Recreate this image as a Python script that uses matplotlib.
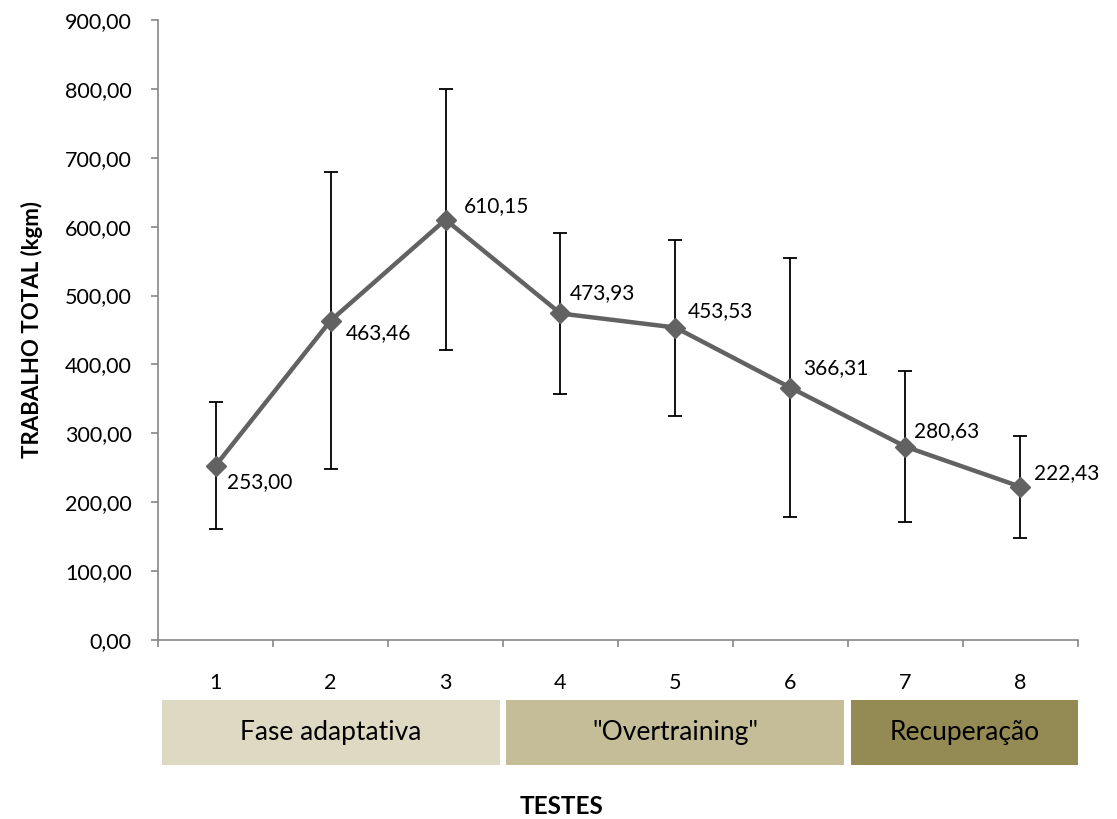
import matplotlib
matplotlib.use("Agg")
import matplotlib.pyplot as plt
import matplotlib.transforms as mtransforms
from matplotlib.patches import Rectangle
from matplotlib.ticker import FuncFormatter, MultipleLocator

plt.rcParams['font.family'] = ['Lato', 'DejaVu Sans']

# data
testes = [1, 2, 3, 4, 5, 6, 7, 8]
trabalho = [253.00, 463.46, 610.15, 473.93, 453.53, 366.31, 280.63, 222.43]
desvio = [92.4, 216.0, 189.5, 117.0, 127.7, 187.5, 109.3, 74.3]
fases = ['Fase adaptativa', '"Overtraining"', 'Recuperação']
fase_cores = ['#DDD9C3', '#C4BD97', '#948A54']
fase_inicio = [1, 4, 7]
fase_fim = [3, 6, 8]

# label offsets in points (dx, dy)
label_off = [(8, -12), (11, -9), (13, 10), (7, 15), (9, 12), (9, 14), (6, 11), (10, 10)]

fig = plt.figure(figsize=(11.17, 8.19), dpi=100)
ax = fig.add_axes([0.1415, 0.2186, 0.8235, 0.7570])

ax.errorbar(testes, trabalho, yerr=desvio, fmt='none', ecolor='black',
            elinewidth=1.3, capsize=5, capthick=1.3, zorder=2)
ax.plot(testes, trabalho, color='#626262', lw=3.2, marker='D', markersize=10,
        zorder=3)

for x, y, (dx, dy) in zip(testes, trabalho, label_off):
    ax.annotate(f'{y:.2f}'.replace('.', ','), (x, y), xytext=(dx, dy),
                textcoords='offset points', ha='left', va='center', fontsize=15)

ax.set_xlim(0.5, 8.5)
ax.set_ylim(0, 900)
ax.yaxis.set_major_locator(MultipleLocator(100))
ax.yaxis.set_major_formatter(FuncFormatter(lambda v, p: f'{v:.2f}'.replace('.', ',')))

# category ticks at boundaries, labels at centres
ax.set_xticks([t + 0.5 for t in [0] + testes])
ax.set_xticklabels([])
ax.set_xticks(testes, minor=True)
ax.set_xticklabels([str(t) for t in testes], minor=True)
ax.tick_params(axis='x', which='minor', length=0, pad=24, labelsize=15.5)
ax.tick_params(axis='x', which='major', length=5, color='#868686', width=1.2)
ax.tick_params(axis='y', length=5, color='#868686', width=1.2, pad=14,
               labelsize=15.5)

for s in ['top', 'right']:
    ax.spines[s].set_visible(False)
for s in ['left', 'bottom']:
    ax.spines[s].set_color('#868686')
    ax.spines[s].set_linewidth(1.2)

ax.set_ylabel('TRABALHO TOTAL (kgm)', fontsize=16, fontweight='bold', labelpad=16)

# phase boxes below the axis
trans = mtransforms.blended_transform_factory(ax.transData, fig.transFigure)
gap = 0.03
for nome, cor, a, b in zip(fases, fase_cores, fase_inicio, fase_fim):
    x0 = a - 0.5 + gap
    x1 = b + 0.5 - (gap if b != testes[-1] else 0)
    rect = Rectangle((x0, 0.066), x1 - x0, 0.079, transform=trans,
                     facecolor=cor, edgecolor='none', clip_on=False)
    fig.add_artist(rect)
    fig.text((x0 + x1) / 2, 0.1055, nome, transform=trans, ha='center',
             va='center', fontsize=19)

fig.text(0.503, 0.015, 'TESTES', ha='center', va='center', fontsize=17.5,
         fontweight='bold')

fig.savefig('out.png', dpi=100)
